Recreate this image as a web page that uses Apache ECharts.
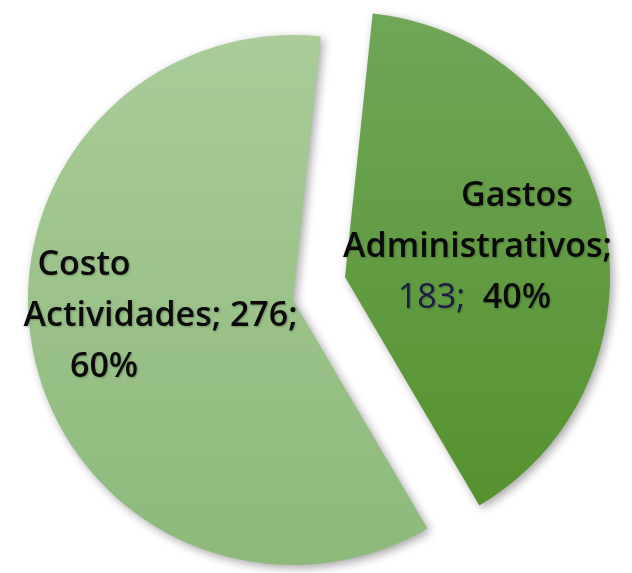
<!DOCTYPE html>
<html>
<head>
<meta charset="utf-8">
<script src="https://cdn.jsdelivr.net/npm/echarts@6/dist/echarts.min.js"></script>
<style>
  html, body { margin: 0; padding: 0; background: #fff; }
  #chart { width: 632px; height: 573px; }
</style>
</head>
<body>
<div id="chart"></div>
<script>
const categories = ["Gastos Administrativos", "Costo Actividades"];
const values = [183, 276];
const labelLines = [
  ["Gastos", "Administrativos;"],
  ["Costo", "Actividades;"]
];

const fills = [
  ["#70a658", "#55922e"], // darker green
  ["#a9cc98", "#8db97b"]  // light green
];

// exploded slices: each slice drawn from its own shifted centre
const centers = [[345, 277], [293, 300]];
const labelPads = [[0, 0, 2, 0], [0, 0, 24, 0]];

const chart = echarts.init(document.getElementById("chart"));

const textBase = {
  fontFamily: "Open Sans", fontWeight: 600, fontSize: 34, color: "#0a0a0a", lineHeight: 51,
  textShadowColor: "rgba(0,0,0,0.25)", textShadowBlur: 2, textShadowOffsetX: 1, textShadowOffsetY: 1
};

// lines are centred; padding nudges single lines sideways
const rich = {
  g1: Object.assign({}, textBase, { padding: [0, 0, 0, 79] }),
  g2: Object.assign({}, textBase),
  gn: Object.assign({}, textBase, { color: "#1c1c44", fontWeight: 400 }),
  g3: Object.assign({}, textBase, { padding: [0, 6, 0, 0] }),
  c1: Object.assign({}, textBase, { padding: [0, 153, 0, 0] }),
  c2: Object.assign({}, textBase),
  c3: Object.assign({}, textBase, { padding: [0, 113, 0, 0] })
};

const formatLabel = (p) => {
  const pct = Math.round(p.percent) + "%";
  if (p.dataIndex === 0) {
    return "{g1|" + labelLines[0][0] + "}\n{g2|" + labelLines[0][1] + "}\n{gn|" + p.value + ";}{g3|  " + pct + "}";
  }
  return "{c1|" + labelLines[1][0] + "}\n{c2|" + labelLines[1][1] + " " + p.value + ";}\n{c3|" + pct + "}";
};

const makeSeries = (shown) => ({
  type: "pie",
  center: centers[shown],
  radius: 265,
  startAngle: 84,
  clockwise: true,
  silent: true,
  emphasis: { disabled: true },
  labelLine: { show: false },
  data: categories.map((name, i) => {
    if (i !== shown) {
      return { name, value: values[i], itemStyle: { color: "rgba(0,0,0,0)" }, label: { show: false } };
    }
    return {
      name,
      value: values[i],
      itemStyle: {
        color: {
          type: "linear", x: 0, y: 0, x2: 0, y2: 1,
          colorStops: [
            { offset: 0, color: fills[i][0] },
            { offset: 1, color: fills[i][1] }
          ]
        },
        shadowBlur: 10,
        shadowOffsetX: 3,
        shadowOffsetY: 3,
        shadowColor: "rgba(0,0,0,0.35)"
      },
      label: {
        show: true,
        position: "inside",
        padding: labelPads[i],
        formatter: formatLabel,
        rich
      }
    };
  })
});

const option = {
  animation: false,
  series: [makeSeries(1), makeSeries(0)]
};

chart.setOption(option);
</script>
</body>
</html>
